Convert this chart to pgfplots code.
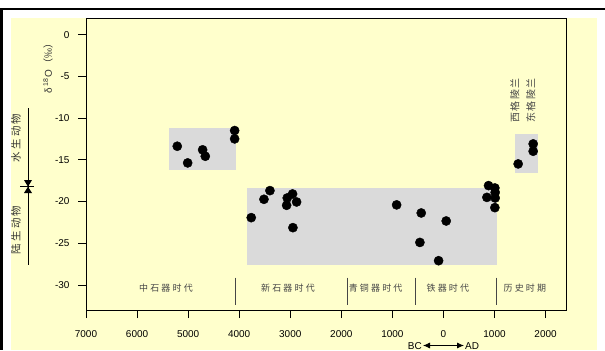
\documentclass[border=0pt]{standalone}
\usepackage{pgfplots}
\pgfplotsset{compat=1.18}
\usepackage{fontspec}
\setmainfont{Liberation Sans}
\newfontfamily\cjk{Noto Sans CJK SC}
\usetikzlibrary{arrows.meta}
\definecolor{bgy}{RGB}{255,255,204}
\definecolor{boxg}{RGB}{218,218,218}
\definecolor{lbl}{RGB}{70,70,70}
\newcommand\ls{\kern2.2bp}
\newcommand\lt{\kern1.3bp}

\begin{document}
\begin{tikzpicture}[x=1bp,y=1bp]
\useasboundingbox (0,0) rectangle (605,350);
\fill[white] (0,0) rectangle (605,350);
\fill[bgy] (11,0) rectangle (597,332);
\fill[black] (0,0) rectangle (3,342);
\fill[black] (0,339.5) rectangle (605,342);

\begin{axis}[
  at={(86bp,40bp)}, anchor=south west,
  scale only axis, width=480bp, height=292bp,
  xmin=-7000, xmax=2400, ymin=-33, ymax=2,
  axis background/.style={fill=bgy},
  axis line style={black, line width=0.8bp},
  xtick={-7000,-6000,...,2000},
  xticklabels={7000,6000,5000,4000,3000,2000,1000,0,1000,2000},
  ytick={-30,-25,...,0},
  yticklabels={-30,-25,-20,-15,-10,-5,0},
  xtick pos=bottom, ytick pos=left,
  tick align=outside,
  major tick length=8bp,
  tick style={black, line width=0.8bp},
  ticklabel style={font=\fontsize{10}{12}\selectfont},
  xticklabel style={yshift=-9bp},
  yticklabel style={xshift=-5bp},
  clip=false,
]
% shaded ranges
\addplot[fill=boxg, draw=none] coordinates {(-5375,-11.13) (-4063,-11.13) (-4063,-16.17) (-5375,-16.17)};
\addplot[fill=boxg, draw=none] coordinates {(-3848,-18.33) (1046,-18.33) (1046,-27.66) (-3848,-27.66)};
\addplot[fill=boxg, draw=none] coordinates {(1399,-11.88) (1849,-11.88) (1849,-16.57) (1399,-16.57)};

% data points
\addplot[only marks, mark=*, mark size=4.6bp, black] coordinates {
(-5213,-13.37) (-5009,-15.37) (-4716,-13.8) (-4664,-14.57) (-4089,-11.49) (-4089,-12.49)
(-3398,-18.69) (-3515,-19.73) (-3764,-21.93) (-3059,-19.57) (-2955,-19.09) (-3071,-20.45)
(-2876,-20.05) (-2948,-23.13) (-917,-20.4) (-435,-21.37) (54,-22.33) (-461,-24.9) (-95,-27.09)
(883,-18.09) (1007,-18.37) (1013,-18.9) (851,-19.5) (1013,-19.57) (1007,-20.73)
(1463,-15.49) (1757,-13.09) (1757,-13.97)
};

% period separators
\draw[lbl, line width=1bp] (axis cs:-4077,-29.13) -- (axis cs:-4077,-32.37);
\draw[lbl, line width=1bp] (axis cs:-1877,-29.13) -- (axis cs:-1877,-32.37);
\draw[lbl, line width=1bp] (axis cs:-540,-29.13) -- (axis cs:-540,-32.37);
\draw[lbl, line width=1bp] (axis cs:1040,-29.13) -- (axis cs:1040,-32.37);

% period labels
\tikzset{per/.style={font=\cjk\fontsize{9}{10}\selectfont, text=lbl, inner sep=0pt}}
\node[per] at (axis cs:-5434,-30.42) {中\ls 石\ls 器\ls 时\ls 代};
\node[per] at (axis cs:-3045,-30.42) {新\ls 石\ls 器\ls 时\ls 代};
\node[per] at (axis cs:-1328,-30.42) {青\ls 铜\ls 器\ls 时\ls 代};
\node[per] at (axis cs:87,-30.42) {铁\ls 器\ls 时\ls 代};
\node[per] at (axis cs:1594,-30.42) {历\ls 史\ls 时\ls 期};

% Greenland labels
\tikzset{gl/.style={font=\cjk\fontsize{10}{11}\selectfont, text=lbl, inner sep=0pt, rotate=90}}
\node[gl] at (axis cs:1399,-7.89) {西\lt 格\lt 陵\lt 兰};
\node[gl] at (axis cs:1712,-7.89) {东\lt 格\lt 陵\lt 兰};
\end{axis}

% y label
\node[rotate=90, font=\fontsize{10}{12}\selectfont, text=black!80, inner sep=0pt] at (48,284) {δ\,\textsuperscript{18}O\,{\cjk（‰）}};

% left annotation
\draw[black, line width=0.8bp] (28,242) -- (28,85);
\fill[black] (24,170) -- (32,170) -- (28,163.3) -- cycle;
\fill[black] (24,157) -- (32,157) -- (28,163.3) -- cycle;
\draw[black, line width=0.8bp] (20,163.3) -- (34,163.3);
\node[rotate=90, font=\cjk\fontsize{10.5}{11}\selectfont, text=black!80, inner sep=0pt] at (16,212) {水\ls 生\ls 动\ls 物};
\node[rotate=90, font=\cjk\fontsize{10.5}{11}\selectfont, text=black!80, inner sep=0pt] at (16,120) {陆\ls 生\ls 动\ls 物};

% BC / AD
\node[anchor=east, font=\fontsize{10}{12}\selectfont, inner sep=0pt] at (422,4) {BC};
\draw[{Latex[length=7bp,width=6bp]}-{Latex[length=7bp,width=6bp]}, line width=0.8bp] (423,4.5) -- (464,4.5);
\node[anchor=west, font=\fontsize{10}{12}\selectfont, inner sep=0pt] at (465,4) {AD};
\end{tikzpicture}
\end{document}
